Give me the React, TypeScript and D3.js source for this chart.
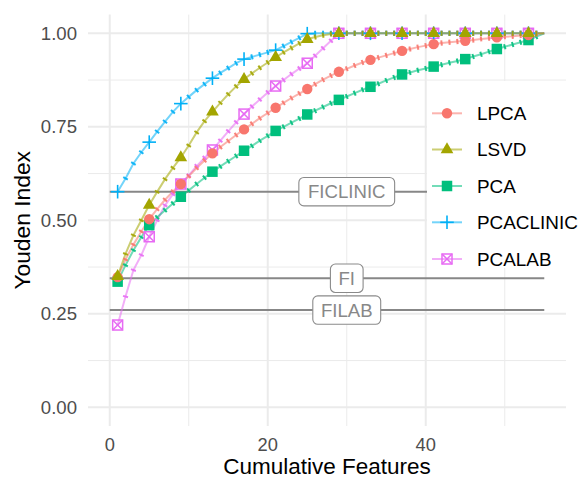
import React from "react";
import * as d3 from "d3";

const features = [1,2,3,4,5,6,7,8,9,10,11,12,13,14,15,16,17,18,19,20,21,22,23,24,25,26,27,28,29,30,31,32,33,34,35,36,37,38,39,40,41,42,43,44,45,46,47,48,49,50,51,52,53,54,55];
const bigMarkerFeatures = [1,5,9,13,17,21,25,29,33,37,41,45,49,53];

const LPCA = [0.348,0.395,0.435,0.47,0.503, 0.53,0.555,0.577,0.597, 0.618,0.64,0.66,0.679, 0.696,0.712,0.728,0.743, 0.758,0.773,0.787,0.801, 0.814,0.827,0.839,0.851, 0.864,0.876,0.887,0.897, 0.905,0.914,0.922,0.929, 0.935,0.941,0.947,0.953, 0.958,0.963,0.967,0.971, 0.974,0.976,0.978,0.98, 0.982,0.985,0.987,0.989, 0.991,0.992,0.994,0.995, 0.998,1.0];
const LSVD = [0.35,0.41,0.46,0.5,0.541, 0.576,0.61,0.64,0.668, 0.7,0.735,0.765,0.79, 0.814,0.837,0.858,0.877, 0.893,0.908,0.922,0.936, 0.949,0.961,0.973,0.984, 0.99,0.995,0.998,1.0, 1,1,1,1, 1,1,1,1, 1,1,1,1, 1,1,1,1, 1,1,1,1, 1,1,1,1, 1,1];
const PCA = [0.336,0.38,0.42,0.455,0.487, 0.508,0.527,0.545,0.563, 0.58,0.597,0.614,0.63, 0.644,0.658,0.672,0.686, 0.699,0.713,0.726,0.739, 0.75,0.761,0.772,0.783, 0.793,0.803,0.813,0.822, 0.831,0.84,0.849,0.857, 0.865,0.874,0.882,0.89, 0.895,0.901,0.906,0.911, 0.916,0.921,0.926,0.931, 0.938,0.944,0.951,0.958, 0.964,0.97,0.976,0.982, 0.991,1.0];
const PCACLINIC = [0.5765,0.612,0.652,0.682,0.709, 0.737,0.764,0.79,0.812, 0.83,0.848,0.864,0.88, 0.894,0.907,0.92,0.931, 0.937,0.943,0.949,0.955, 0.966,0.977,0.988,0.999, 1,1,1,1, 1,1,1,1, 1,1,1,1, 1,1,1,1, 1,1,1,1, 1,1,1,1, 1,1,1,1, 1,1];
const PCALAB = [0.22,0.296,0.367,0.407,0.456, 0.5,0.54,0.57,0.597, 0.62,0.645,0.667,0.688, 0.713,0.738,0.762,0.784, 0.804,0.823,0.842,0.859, 0.875,0.891,0.906,0.92, 0.94,0.96,0.98,1.0, 1,1,1,1, 1,1,1,1, 1,1,1,1, 1,1,1,1, 1,1,1,1, 1,1,1,1, 1,1];

const seriesNames = ["LPCA", "LSVD", "PCA", "PCACLINIC", "PCALAB"];
const seriesValues = [LPCA, LSVD, PCA, PCACLINIC, PCALAB];
const seriesColors = ["#F8766D", "#A3A500", "#00BF7D", "#00B0F6", "#E76BF3"];
const seriesShapes = ["circle", "triangle", "square", "plus", "squarex"];
const drawOrder = [4, 3, 2, 0, 1];

const refNames = ["FICLINIC", "FI", "FILAB"];
const refValues = [0.5765, 0.345, 0.26];
const refLabelX = 30;
const refStart = 0;
const refEnd = 55;

const xMajorTicks = [0, 20, 40];
const xMinorTicks = [10, 30, 50];
const yMajorTicks = [0, 0.25, 0.5, 0.75, 1.0];
const yMinorTicks = [0.125, 0.375, 0.625, 0.875];

const W = 579, H = 478;
const panel = { left: 88, right: 566, top: 14.6, bottom: 426 };
const FONT = "'Liberation Sans', Arial, Helvetica, sans-serif";

function Marker({ shape, x, y, color }: { shape: string; x: number; y: number; color: string }) {
  if (shape === "circle") {
    return <circle cx={x} cy={y} r={5.2} fill={color} />;
  }
  if (shape === "triangle") {
    const p = d3.symbol().type(d3.symbolTriangle).size(70)();
    return <path d={p || ""} transform={`translate(${x},${y})`} fill={color} />;
  }
  if (shape === "square") {
    const s = 10.5;
    return <rect x={x - s / 2} y={y - s / 2} width={s} height={s} fill={color} />;
  }
  if (shape === "plus") {
    const a = 6.8;
    return (
      <g stroke={color} strokeWidth={1.6}>
        <line x1={x - a} x2={x + a} y1={y} y2={y} />
        <line x1={x} x2={x} y1={y - a} y2={y + a} />
      </g>
    );
  }
  const s = 10;
  const h = s / 2;
  return (
    <g stroke={color} strokeWidth={1.5} fill="none">
      <rect x={x - h} y={y - h} width={s} height={s} />
      <line x1={x - h} y1={y - h} x2={x + h} y2={y + h} />
      <line x1={x - h} y1={y + h} x2={x + h} y2={y - h} />
    </g>
  );
}

export default function App() {
  const x = d3.scaleLinear().domain([-2.75, 57.75]).range([panel.left, panel.right]);
  const y = d3.scaleLinear().domain([-0.05, 1.05]).range([panel.bottom, panel.top]);
  const line = d3.line<[number, number]>().x((d) => x(d[0])).y((d) => y(d[1]));

  const legend = { x0: 427, y0: 81, y1: 268, rows: [113.3, 149.5, 186, 222.3, 259] };

  const tickMarks = (si: number) => {
    const vals = seriesValues[si];
    const out: JSX.Element[] = [];
    features.forEach((f, j) => {
      if (bigMarkerFeatures.includes(f) || j === features.length - 1) return;
      const px = x(f), py = y(vals[j]);
      const jp = Math.max(0, j - 1), jn = Math.min(features.length - 1, j + 1);
      const dx = x(features[jn]) - x(features[jp]);
      const dy = y(vals[jn]) - y(vals[jp]);
      const len = Math.hypot(dx, dy) || 1;
      const nx = -dy / len, ny = dx / len;
      const hl = 2.6;
      out.push(
        <line key={j} x1={px - nx * hl} y1={py - ny * hl} x2={px + nx * hl} y2={py + ny * hl} stroke={seriesColors[si]} strokeWidth={2} strokeOpacity={0.9} />
      );
    });
    return out;
  };

  return (
    <svg width={W} height={H} style={{ position: "absolute", left: 0, top: 0, background: "#fff" }} fontFamily={FONT}>
      <rect width={W} height={H} fill="#fff" />
      {/* grid */}
      {xMinorTicks.map((t) => (
        <line key={"xm" + t} x1={x(t)} x2={x(t)} y1={panel.top} y2={panel.bottom} stroke="#ebebeb" strokeWidth={1} />
      ))}
      {yMinorTicks.map((t) => (
        <line key={"ym" + t} y1={y(t)} y2={y(t)} x1={panel.left} x2={panel.right} stroke="#ebebeb" strokeWidth={1} />
      ))}
      {xMajorTicks.map((t) => (
        <line key={"xM" + t} x1={x(t)} x2={x(t)} y1={panel.top} y2={panel.bottom} stroke="#ebebeb" strokeWidth={2} />
      ))}
      {yMajorTicks.map((t) => (
        <line key={"yM" + t} y1={y(t)} y2={y(t)} x1={panel.left} x2={panel.right} stroke="#ebebeb" strokeWidth={2} />
      ))}

      {/* reference lines */}
      {refValues.map((v, i) => (
        <line key={"ref" + i} x1={x(refStart)} x2={x(refEnd)} y1={y(v)} y2={y(v)} stroke="#878787" strokeWidth={2} />
      ))}

      {/* series lines */}
      {drawOrder.map((si) => (
        <path
          key={"line" + si}
          d={line(features.map((f, j) => [f, seriesValues[si][j]] as [number, number])) || ""}
          fill="none"
          stroke={seriesColors[si]}
          strokeOpacity={0.55}
          strokeWidth={2}
        />
      ))}
      {/* small tick markers at every feature */}
      {drawOrder.map((si) => (
        <g key={"small" + si}>{tickMarks(si)}</g>
      ))}
      {/* big markers */}
      {drawOrder.map((si) => (
        <g key={"big" + si}>
          {bigMarkerFeatures.map((f) => {
            const j = features.indexOf(f);
            return <Marker key={f} shape={seriesShapes[si]} x={x(f)} y={y(seriesValues[si][j])} color={seriesColors[si]} />;
          })}
        </g>
      ))}

      {/* reference labels */}
      {refNames.map((n, i) => {
        const fs = 18.6;
        const est = n === "FICLINIC" ? 78.4 : n === "FI" ? 15.3 : 50.5;
        const padX = 8.7;
        const bw = est + padX * 2;
        const bh = 28.4;
        const cx = x(refLabelX);
        const cy = y(refValues[i]);
        return (
          <g key={"lab" + i}>
            <rect x={cx - bw / 2} y={cy - bh / 2} width={bw} height={bh} rx={5} fill="#fff" stroke="#8a8a8a" strokeWidth={1.1} />
            <text x={cx} y={cy} textAnchor="middle" dominantBaseline="central" fontSize={fs} fill="#888888">
              {n}
            </text>
          </g>
        );
      })}

      {/* axes text */}
      {yMajorTicks.map((t) => (
        <text key={"yl" + t} x={77} y={y(t)} textAnchor="end" dominantBaseline="central" fontSize={18.6} fill="#4d4d4d">
          {d3.format(".2f")(t)}
        </text>
      ))}
      {xMajorTicks.map((t) => (
        <text key={"xl" + t} x={x(t)} y={444} textAnchor="middle" dominantBaseline="central" fontSize={18.3} fill="#4d4d4d">
          {t}
        </text>
      ))}
      <text x={(panel.left + panel.right) / 2} y={474} textAnchor="middle" fontSize={22.5} fill="#000">
        Cumulative Features
      </text>
      <text transform={`translate(22,${(panel.top + panel.bottom) / 2}) rotate(-90)`} textAnchor="middle" dominantBaseline="central" fontSize={22.8} fill="#000">
        Youden Index
      </text>

      {/* legend */}
      <rect x={legend.x0} y={legend.y0} width={W - legend.x0} height={legend.y1 - legend.y0} fill="#fff" />
      {seriesNames.map((n, i) => (
        <g key={"lg" + i}>
          <line x1={432} x2={462} y1={legend.rows[i]} y2={legend.rows[i]} stroke={seriesColors[i]} strokeOpacity={0.55} strokeWidth={2} />
          <Marker shape={seriesShapes[i]} x={447} y={legend.rows[i]} color={seriesColors[i]} />
          <text x={477} y={legend.rows[i]} dominantBaseline="central" fontSize={18.9} fill="#000">
            {n}
          </text>
        </g>
      ))}
    </svg>
  );
}
